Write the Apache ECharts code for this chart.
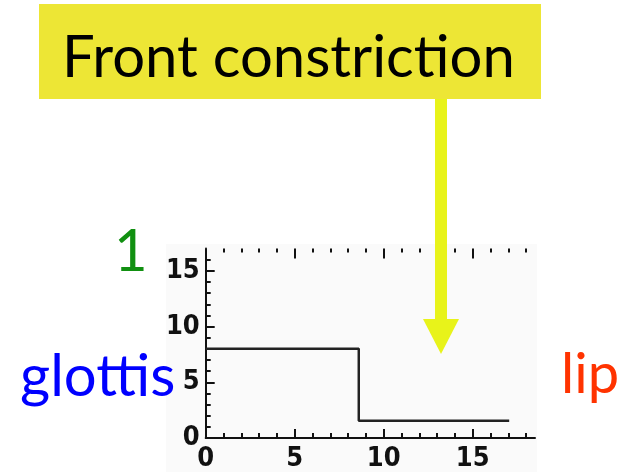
<!DOCTYPE html>
<html>
<head>
<meta charset="utf-8">
<script src="https://cdn.jsdelivr.net/npm/echarts@6/dist/echarts.min.js"></script>
<style>
  html, body { margin: 0; padding: 0; background: #fff; }
  #chart { width: 625px; height: 472px; }
</style>
</head>
<body>
<div id="chart"></div>
<script>
// 声道截面：从声门(0)到唇(17)，前部收紧
const sectionX = [0, 8.6, 17.05];        // 每段起点 (cm)
const sectionArea = [8, 1.55, 1.55];     // 对应截面积
const xMajorTicks = [0, 5, 10, 15];
const xMinorTicks = [1, 2, 3, 4, 6, 7, 8, 9, 11, 12, 13, 14, 16, 17, 18];
const yMajorTicks = [0, 5, 10, 15];
const yMinorTicks = [1, 2, 3, 4, 6, 7, 8, 9, 11, 12, 13, 14, 16];
const topMajorTicks = [5, 10, 15];
const topMinorTicks = [1, 2, 3, 4, 6, 7, 8, 9, 11, 12, 13, 14, 16, 17, 18];

const X_MAX = 18.5;
const Y_MAX = 17;
const TICK_FONT = '"Liberation Sans Narrow", "DejaVu Sans Condensed", sans-serif';
const TEXT_FONT = 'Lato, "Open Sans", sans-serif';

const chart = echarts.init(document.getElementById('chart'), null, { renderer: 'canvas' });

// 刻度轴：主刻度带标签，次刻度单独一条轴
function tickAxis(extra) {
  return Object.assign({
    type: 'value',
    min: 0,
    splitLine: { show: false },
    axisLine: { show: false },
    axisLabel: { show: false },
    axisTick: { show: true, inside: true, length: 5, lineStyle: { color: '#111', width: 2 } }
  }, extra);
}

const labelStyle = {
  fontFamily: TICK_FONT,
  fontWeight: 'bold',
  fontSize: 27,
  color: '#111'
};

const option = {
  animation: false,
  backgroundColor: '#ffffff',
  grid: { left: 205.7, right: 90, top: 248.6, bottom: 33, containLabel: false },
  xAxis: [
    tickAxis({
      position: 'bottom', max: X_MAX,
      axisLine: { show: true, lineStyle: { color: '#111', width: 2 } },
      axisTick: { show: true, inside: true, length: 9, customValues: xMajorTicks, lineStyle: { color: '#111', width: 2 } },
      axisLabel: Object.assign({ show: true, margin: 7, customValues: xMajorTicks }, labelStyle)
    }),
    tickAxis({
      position: 'bottom', max: X_MAX,
      axisTick: { show: true, inside: true, length: 5, customValues: xMinorTicks, lineStyle: { color: '#111', width: 2 } }
    }),
    tickAxis({
      position: 'top', max: X_MAX,
      axisTick: { show: true, inside: true, length: 10, customValues: topMajorTicks, lineStyle: { color: '#111', width: 2 } }
    }),
    tickAxis({
      position: 'top', max: X_MAX,
      axisTick: { show: true, inside: true, length: 4, customValues: topMinorTicks, lineStyle: { color: '#111', width: 2 } }
    })
  ],
  yAxis: [
    tickAxis({
      position: 'left', max: Y_MAX,
      axisLine: { show: true, lineStyle: { color: '#111', width: 2 } },
      axisTick: { show: true, inside: true, length: 9, customValues: yMajorTicks, lineStyle: { color: '#111', width: 2 } },
      axisLabel: Object.assign({ show: true, margin: 6, customValues: yMajorTicks }, labelStyle)
    }),
    tickAxis({
      position: 'left', max: Y_MAX,
      axisTick: { show: true, inside: true, length: 5, customValues: yMinorTicks, lineStyle: { color: '#111', width: 2 } }
    })
  ],
  series: [{
    type: 'line',
    step: 'end',
    xAxisIndex: 0,
    yAxisIndex: 0,
    symbol: 'none',
    data: sectionX.map((x, i) => [x, sectionArea[i]]),
    lineStyle: { color: '#222', width: 2.5 }
  }],
  graphic: [
    // 图片底色
    { type: 'rect', z: -10, shape: { x: 166, y: 244, width: 371, height: 228 }, style: { fill: '#fafafa' } },
    // 标题框
    { type: 'rect', shape: { x: 39, y: 4, width: 502, height: 95 }, style: { fill: '#ede635' } },
    { type: 'text', left: 62, top: 29, style: { text: 'Front constriction', font: '58px ' + TEXT_FONT, fill: '#000' } },
    // 箭头
    { type: 'rect', z: 10, shape: { x: 435, y: 99, width: 12, height: 221 }, style: { fill: '#e8f31a' } },
    { type: 'polygon', z: 10, shape: { points: [[423, 319], [459, 319], [441, 354]] }, style: { fill: '#e8f31a' } },
    // 两端标签
    { type: 'text', left: 114, top: 223, style: { text: '1', font: '58px ' + TEXT_FONT, fill: '#119011' } },
    { type: 'text', left: 20, top: 348, style: { text: 'glottis', font: '58px ' + TEXT_FONT, fill: '#0000ff' } },
    { type: 'text', left: 561, top: 347, style: { text: 'lip', font: '56px ' + TEXT_FONT, fill: '#ff3300' } }
  ]
};

chart.setOption(option);
</script>
</body>
</html>
